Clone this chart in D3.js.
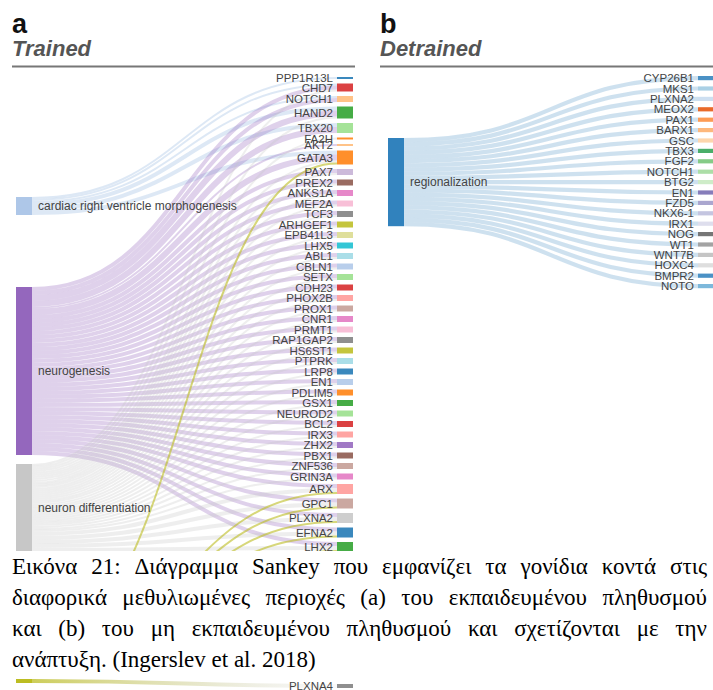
<!DOCTYPE html>
<html>
<head>
<meta charset="utf-8">
<script src="https://cdn.jsdelivr.net/npm/d3@7"></script>
<style>
  html, body { margin: 0; padding: 0; background: #fff; }
  body { width: 713px; height: 690px; overflow: hidden; }
  svg { display: block; }
  .lbl { font-family: "Liberation Sans", Arial, Helvetica, sans-serif; fill: #444; }
</style>
</head>
<body>
<svg id="fig" width="713" height="690"></svg>
<script>
// ---------------- Panel a (trained): GO terms and genes ----------------
const termsA = ["cardiac right ventricle morphogenesis", "neurogenesis", "neuron differentiation", "axon guidance"];
const genesA = ["PPP1R13L", "CHD7", "NOTCH1", "HAND2", "TBX20", "FA2H", "AKT2", "GATA3",
  "PAX7", "PREX2", "ANKS1A", "MEF2A", "TCF3", "ARHGEF1", "EPB41L3", "LHX5", "ABL1", "CBLN1",
  "SETX", "CDH23", "PHOX2B", "PROX1", "CNR1", "PRMT1", "RAP1GAP2", "HS6ST1", "PTPRK", "LRP8",
  "EN1", "PDLIM5", "GSX1", "NEUROD2", "BCL2", "IRX3", "ZHX2", "PBX1", "ZNF536", "GRIN3A",
  "ARX", "GPC1", "PLXNA2", "EFNA2", "LHX2"];
// flow from each term to each gene (aligned with genesA)
const cardiacA      = [1, 1, 1, 2, 2, 0, 0, 2,  0,0,0,0,0,0,0,0,0,0,0,0,0,0,0,0,0,0,0,0,0,0,0,0,0,0,0,0,0,0,  0, 0, 0, 0, 0];
const neurogenesisA = [0, 2, 2, 3, 3, 0, 1, 3,  2,2,2,2,2,2,2,2,2,2,2,2,2,2,2,2,2,2,2,2,2,2,2,2,2,2,2,2,2,2,  2, 2, 2, 2, 2];
const neuronDiffA   = [0, 1, 0, 1, 0, 1, 0, 1,  1,1,1,1,1,1,1,1,1,1,1,1,1,1,1,1,1,1,1,1,1,1,1,1,1,1,1,1,1,1,  2, 2, 2, 2, 2];
const axonA         = [0, 0, 0, 0, 0, 0, 0, 1,  0,0,0,0,0,0,0,0,0,0,0,0,0,0,0,0,0,0,0,0,0,0,0,0,0,0,0,0,0,0,  1, 1, 1, 1, 1];

// ---------------- Panel b (detrained) ----------------
const termsB = ["regionalization"];
const genesB = ["CYP26B1", "MKS1", "PLXNA2", "MEOX2", "PAX1", "BARX1", "GSC", "TBX3", "FGF2",
  "NOTCH1", "BTG2", "EN1", "FZD5", "NKX6-1", "IRX1", "NOG", "WT1", "WNT7B", "HOXC4", "BMPR2", "NOTO"];
const regionalizationB = [1,1,1,1,1,1,1,1,1,1,1,1,1,1,1,1,1,1,1,1,1];

// ---------------- continuation strip ----------------
const termsC = ["axon guidance"];
const genesC = ["PLXNA4"];
const axonC = [2];

// ---------------- caption ----------------
const captionLines = [
  "Εικόνα 21: Διάγραμμα Sankey που εμφανίζει τα γονίδια κοντά στις",
  "διαφορικά μεθυλιωμένες περιοχές (a) του εκπαιδευμένου πληθυσμού",
  "και (b) του μη εκπαιδευμένου πληθυσμού και σχετίζονται με την",
  "ανάπτυξη. (Ingerslev et al. 2018)"
];

// ---------------- styles ----------------
const termColor = {
  "cardiac right ventricle morphogenesis": "#aec7e8",
  "neurogenesis": "#9467bd",
  "neuron differentiation": "#c7c7c7",
  "axon guidance": "#bcbd22",
  "regionalization": "#3182bd"
};
const linkOpacity = {
  "cardiac right ventricle morphogenesis": 0.42,
  "neurogenesis": 0.3,
  "neuron differentiation": 0.3,
  "axon guidance": 0.6,
  "regionalization": 0.24
};
const geneColor = {
  PPP1R13L: "#1f77b4", CHD7: "#d62728", NOTCH1: "#ffbb78", HAND2: "#2ca02c", TBX20: "#98df8a",
  FA2H: "#ff7f0e", AKT2: "#ffbb78", GATA3: "#ff7f0e", PAX7: "#c5b0d5", PREX2: "#8c564b",
  ANKS1A: "#e377c2", MEF2A: "#f7b6d2", TCF3: "#7f7f7f", ARHGEF1: "#bcbd22", EPB41L3: "#dbdb8d",
  LHX5: "#17becf", ABL1: "#9edae5", CBLN1: "#aec7e8", SETX: "#98df8a", CDH23: "#d62728",
  PHOX2B: "#ff9896", PROX1: "#c49c94", CNR1: "#e377c2", PRMT1: "#f7b6d2", RAP1GAP2: "#7f7f7f",
  HS6ST1: "#bcbd22", PTPRK: "#9edae5", LRP8: "#1f77b4", EN1: "#aec7e8", PDLIM5: "#ff7f0e",
  GSX1: "#2ca02c", NEUROD2: "#98df8a", BCL2: "#d62728", IRX3: "#ff9896", ZHX2: "#9467bd",
  PBX1: "#8c564b", ZNF536: "#c49c94", GRIN3A: "#e377c2", ARX: "#ff9896", GPC1: "#c49c94",
  PLXNA2: "#c7c7c7", EFNA2: "#1f77b4", LHX2: "#2ca02c", PLXNA4: "#7f7f7f"
};
const geneColorB = ["#3182bd", "#9ecae1", "#c6dbef", "#e6550d", "#fd8d3c", "#fdae6b", "#fdd0a2",
  "#31a354", "#74c476", "#a1d99b", "#c7e9c0", "#756bb1", "#9e9ac8", "#bcbddc", "#dadaeb",
  "#636363", "#969696", "#bdbdbd", "#d9d9d9", "#3182bd", "#6baed6"];

// ---------------- layout ----------------
function buildSankey(terms, genes, matrix, opt) {
  const unit = d3.scaleLinear().domain([0, 1]).range([0, opt.unitPx]);
  const termNodes = terms.map((name, i) => ({ name, value: d3.sum(matrix[i]) }));
  const geneNodes = genes.map((name, j) => ({ name, index: j, value: d3.sum(matrix, row => row[j]) }));
  const links = [];
  matrix.forEach((row, i) => row.forEach((v, j) => {
    if (v > 0) links.push({ source: termNodes[i], target: geneNodes[j], value: v, width: unit(v) });
  }));

  // gene column, stacked top-down with fixed padding
  let y = opt.top;
  geneNodes.forEach(n => { n.y0 = y; n.y1 = y + unit(n.value); y = n.y1 + opt.pad; });

  // term column: explicit gaps (in flow units) or centred on the linked genes
  if (opt.termGaps) {
    let yt = opt.top;
    termNodes.forEach((n, i) => { n.y0 = yt + unit(opt.termGaps[i]); n.y1 = n.y0 + unit(n.value); yt = n.y1; });
  } else {
    termNodes.forEach(n => {
      const ls = links.filter(l => l.source === n);
      const c = d3.sum(ls, l => (l.target.y0 + l.target.y1) / 2 * l.value) / n.value;
      n.y0 = c - unit(n.value) / 2; n.y1 = c + unit(n.value) / 2;
    });
  }

  // link attachment points
  termNodes.forEach(n => {
    let yy = n.y0;
    links.filter(l => l.source === n).sort((a, b) => a.target.y0 - b.target.y0)
      .forEach(l => { l.y0 = yy + l.width / 2; yy += l.width; });
  });
  geneNodes.forEach(n => {
    let yy = n.y0;
    links.filter(l => l.target === n).sort((a, b) => a.source.y0 - b.source.y0)
      .forEach(l => { l.y1 = yy + l.width / 2; yy += l.width; });
  });
  return { termNodes, geneNodes, links };
}

const svg = d3.select("#fig");
const defs = svg.append("defs");

function clip(id, box) {
  defs.append("clipPath").attr("id", id).append("rect")
    .attr("x", box.x).attr("y", box.y).attr("width", box.w).attr("height", box.h);
  return `url(#${id})`;
}

function drawSankey(s, opt) {
  const box = opt.view;
  const g = svg.append("g").attr("clip-path", clip(opt.id, box));
  const col = d3.scaleLinear().domain([0, 1]).range([opt.termX, opt.geneX]);
  const nw = opt.nodeW;
  const link = d3.linkHorizontal().x(d => d[0]).y(d => d[1]);
  const inView = d => { const c = (d.y0 + d.y1) / 2; return c > box.y && c < box.y + box.h; };

  g.append("g").selectAll("path").data(s.links).join("path")
    .attr("d", l => link({ source: [col(0) + nw, l.y0], target: [col(1), l.y1] }))
    .attr("fill", "none")
    .attr("stroke", l => opt.linkStroke ? opt.linkStroke(l) : termColor[l.source.name])
    .attr("stroke-opacity", l => opt.linkStroke ? 1 : linkOpacity[l.source.name])
    .attr("stroke-width", l => l.width);

  g.append("g").selectAll("rect").data(s.termNodes).join("rect")
    .attr("x", col(0)).attr("width", nw)
    .attr("y", d => d.y0).attr("height", d => d.y1 - d.y0)
    .attr("fill", d => termColor[d.name]);

  g.append("g").selectAll("rect").data(s.geneNodes).join("rect")
    .attr("x", col(1)).attr("width", nw)
    .attr("y", d => d.y0).attr("height", d => d.y1 - d.y0)
    .attr("fill", d => opt.geneFill(d)).attr("fill-opacity", 0.88);

  if (opt.termLabels !== false) {
    g.append("g").selectAll("text").data(s.termNodes.filter(inView)).join("text")
      .attr("class", "lbl")
      .attr("x", col(0) + nw + 6).attr("y", d => (d.y0 + d.y1) / 2).attr("dy", "0.35em")
      .attr("font-size", 12)
      .text(d => d.name);
  }

  g.append("g").selectAll("text").data(s.geneNodes.filter(inView)).join("text")
    .attr("class", "lbl")
    .attr("x", col(1) - 4).attr("y", d => (d.y0 + d.y1) / 2).attr("dy", "0.35em")
    .attr("text-anchor", "end").attr("font-size", 11.5)
    .text(d => d.name);
}

// panel headers
function header(x0, x1, letter, title) {
  const g = svg.append("g");
  g.append("text").attr("x", x0).attr("y", 33)
    .attr("font-family", "Liberation Sans, Arial, sans-serif").attr("font-weight", "bold")
    .attr("font-size", 27).attr("fill", "#111").text(letter);
  g.append("text").attr("x", x0).attr("y", 56)
    .attr("font-family", "Liberation Sans, Arial, sans-serif").attr("font-weight", "bold")
    .attr("font-style", "italic").attr("font-size", 22).attr("fill", "#555").text(title);
  g.append("line").attr("x1", x0).attr("x2", x1).attr("y1", 66.5).attr("y2", 66.5)
    .attr("stroke", "#777").attr("stroke-width", 2.2);
}
header(12, 355, "a", "Trained");
header(380, 713, "b", "Detrained");

// panel a
const sankeyA = buildSankey(termsA, genesA, [cardiacA, neurogenesisA, neuronDiffA, axonA],
  { unitPx: 2, top: 77, pad: 4.5, termGaps: [60, 36, 4.5, 49] });
drawSankey(sankeyA, { id: "clipA", view: { x: 0, y: 68, w: 362, h: 483 },
  termX: 16, geneX: 337, nodeW: 16, geneFill: d => geneColor[d.name] });

// panel b
const sankeyB = buildSankey(termsB, genesB, [regionalizationB],
  { unitPx: 4.2, top: 76, pad: 6.2 });
drawSankey(sankeyB, { id: "clipB", view: { x: 366, y: 68, w: 347, h: 483 },
  termX: 388, geneX: 698, nodeW: 16, geneFill: d => geneColorB[d.index] });

// continuation strip below the caption
const grad = defs.append("linearGradient").attr("id", "stripGrad")
  .attr("x1", "0%").attr("x2", "100%").attr("y1", "0%").attr("y2", "0%");
grad.append("stop").attr("offset", "0%").attr("stop-color", termColor["axon guidance"]).attr("stop-opacity", 0.75);
grad.append("stop").attr("offset", "100%").attr("stop-color", "#c7c7c7").attr("stop-opacity", 0.1);
const sankeyC = buildSankey(termsC, genesC, [axonC], { unitPx: 2, top: 684, pad: 0, termGaps: [-2.5] });
drawSankey(sankeyC, { id: "clipC", view: { x: 0, y: 676, w: 362, h: 14 },
  termX: 16, geneX: 337, nodeW: 16, termLabels: false, linkStroke: () => "url(#stripGrad)",
  geneFill: d => geneColor[d.name] });

// caption, justified line by line
const capFont = 23;
const cap = svg.append("g")
  .attr("font-family", "Liberation Serif, 'Times New Roman', serif")
  .attr("font-size", capFont).attr("fill", "#000");
const capLeft = 12, capRight = 707, capTop = 574, capPitch = 31;
captionLines.forEach((line, i) => {
  const words = line.split(" ");
  const els = words.map(w => cap.append("text").attr("y", capTop + i * capPitch).text(w));
  const widths = els.map(e => e.node().getComputedTextLength());
  const last = i === captionLines.length - 1;
  const gap = last ? capFont * 0.25 : (capRight - capLeft - d3.sum(widths)) / (words.length - 1);
  let x = capLeft;
  els.forEach((e, k) => { e.attr("x", x); x += widths[k] + gap; });
});
</script>
</body>
</html>
